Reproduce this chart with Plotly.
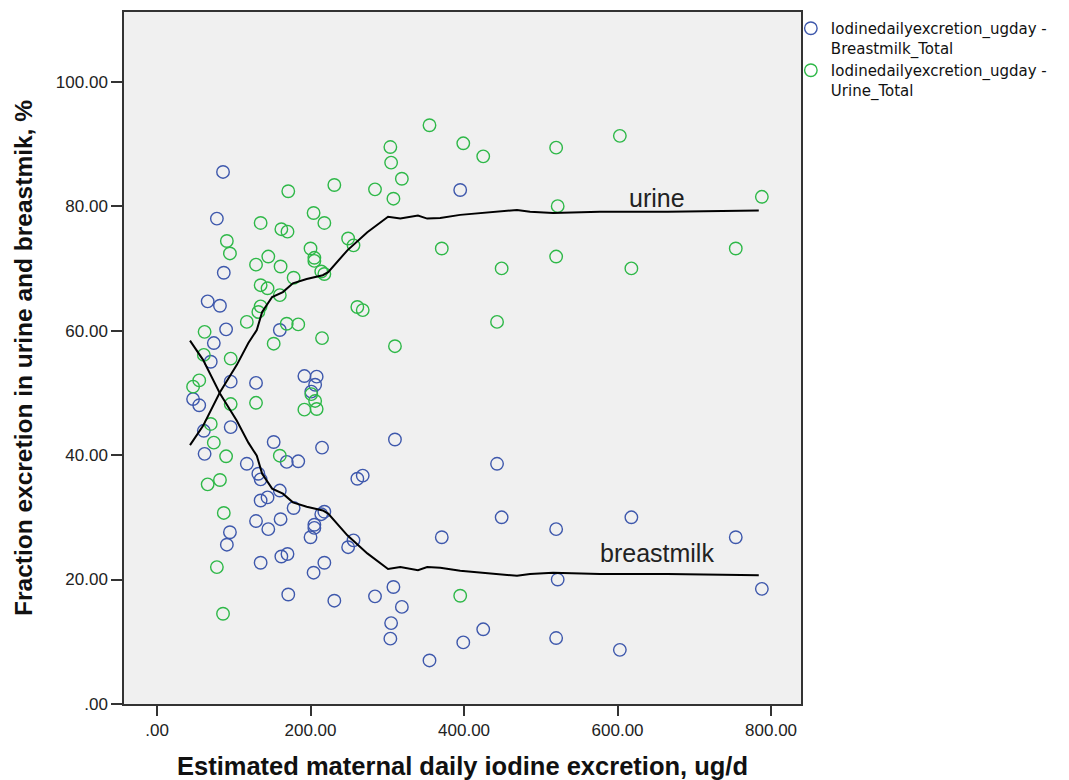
import plotly.graph_objects as go

# Estimated maternal daily iodine excretion (ug/d)
excretion = [47, 55, 61, 62, 66, 70, 74, 78, 82, 86, 87, 90, 91, 95, 96, 96,
             117, 129, 129, 132, 135, 135, 135, 144, 145, 152, 160, 160, 161, 162,
             170, 169, 171, 178, 184, 192, 200, 201, 204, 205, 205, 206, 208, 214,
             215, 218, 218, 231, 249, 256, 261, 268, 284, 304, 305, 308, 310, 319,
             355, 371, 395, 399, 425, 443, 449, 520, 522, 520, 603, 618, 754, 788]

# Fraction of excretion in breastmilk (%)
breastmilk = [49.0, 48.0, 43.9, 40.2, 64.7, 55.0, 58.0, 78.0, 64.0, 85.5, 69.3, 60.2, 25.6, 27.6, 51.8, 44.5,
              38.6, 51.6, 29.4, 37.0, 36.1, 32.7, 22.7, 33.2, 28.1, 42.1, 60.1, 34.3, 29.7, 23.7,
              24.1, 38.9, 17.6, 31.5, 39.0, 52.7, 26.8, 50.2, 21.1, 28.3, 28.8, 51.3, 52.6, 30.5,
              41.2, 30.9, 22.7, 16.6, 25.2, 26.3, 36.2, 36.7, 17.3, 10.5, 13.0, 18.8, 42.5, 15.6,
              7.0, 26.8, 82.6, 9.9, 12.0, 38.6, 30.0, 10.6, 20.0, 28.1, 8.7, 30.0, 26.8, 18.5]

# Fraction of excretion in urine (%)
urine = [51.0, 52.0, 56.1, 59.8, 35.3, 45.0, 42.0, 22.0, 36.0, 14.5, 30.7, 39.8, 74.4, 72.4, 48.2, 55.5,
         61.4, 48.4, 70.6, 63.0, 63.9, 67.3, 77.3, 66.8, 71.9, 57.9, 39.9, 65.7, 70.3, 76.3,
         75.9, 61.1, 82.4, 68.5, 61.0, 47.3, 73.2, 49.8, 78.9, 71.7, 71.2, 48.7, 47.4, 69.5,
         58.8, 69.1, 77.3, 83.4, 74.8, 73.7, 63.8, 63.3, 82.7, 89.5, 87.0, 81.2, 57.5, 84.4,
         93.0, 73.2, 17.4, 90.1, 88.0, 61.4, 70.0, 89.4, 80.0, 71.9, 91.3, 70.0, 73.2, 81.5]

# Loess fit lines
fit_x = [43, 60, 82, 104, 119, 130, 137, 150, 164, 177, 195, 216, 223, 248, 274,
         301, 317, 340, 352, 369, 395, 438, 469, 486, 516, 577, 665, 784]
fit_urine = [41.6, 44.7, 50.1, 54.5, 58.0, 60.1, 63.0, 65.4, 66.2, 67.6, 68.3, 68.9, 69.4, 72.9, 75.8,
             78.3, 78.0, 78.5, 78.0, 78.1, 78.6, 79.1, 79.4, 79.1, 78.9, 79.1, 79.1, 79.3]
fit_breastmilk = [58.4, 55.3, 49.9, 45.5, 42.0, 39.9, 37.0, 34.6, 33.8, 32.4, 31.7, 31.1, 30.6, 27.1, 24.2,
                  21.7, 22.0, 21.5, 22.0, 21.9, 21.4, 20.9, 20.6, 20.9, 21.1, 20.9, 20.9, 20.7]

x_ticks = [0, 200, 400, 600, 800]
x_ticktext = [".00", "200.00", "400.00", "600.00", "800.00"]
y_ticks = [0, 20, 40, 60, 80, 100]
y_ticktext = [".00", "20.00", "40.00", "60.00", "80.00", "100.00"]

BLUE = "#3E58AC"
GREEN = "#2EB848"
FONT = "Liberation Sans, Arial, sans-serif"
LEGFONT = "DejaVu Sans, Verdana, sans-serif"

fig = go.Figure()
fig.add_trace(go.Scatter(
    x=excretion, y=breastmilk, mode="markers",
    name="Iodinedailyexcretion_ugday -<br>Breastmilk_Total",
    marker=dict(symbol="circle-open", size=12.5, color=BLUE, line=dict(width=1.4)),
))
fig.add_trace(go.Scatter(
    x=excretion, y=urine, mode="markers",
    name="Iodinedailyexcretion_ugday -<br>Urine_Total",
    marker=dict(symbol="circle-open", size=12.5, color=GREEN, line=dict(width=1.4)),
))
fig.add_trace(go.Scatter(x=fit_x, y=fit_urine, mode="lines", showlegend=False,
                         line=dict(color="black", width=2), hoverinfo="skip"))
fig.add_trace(go.Scatter(x=fit_x, y=fit_breastmilk, mode="lines", showlegend=False,
                         line=dict(color="black", width=2), hoverinfo="skip"))

fig.add_annotation(x=652, y=81.3, text="urine", showarrow=False,
                   font=dict(family=FONT, size=25, color="#222222"))
fig.add_annotation(x=652, y=24.2, text="breastmilk", showarrow=False,
                   font=dict(family=FONT, size=25, color="#222222"))

fig.update_layout(
    width=1061, height=772,
    margin=dict(l=116, r=268, t=2, b=73),
    paper_bgcolor="white", plot_bgcolor="#F0F0F0",
    font=dict(family=FONT, color="#222222"),
    legend=dict(x=0.985, y=1.0, xanchor="left", yanchor="top",
                font=dict(family=LEGFONT, size=15, color="#111111"),
                valign="top", tracegroupgap=4, itemwidth=30,
                bgcolor="rgba(0,0,0,0)"),
    xaxis=dict(
        range=[-43, 839], tickmode="array", tickvals=x_ticks, ticktext=x_ticktext,
        ticks="outside", ticklen=10, tickwidth=1.5, tickcolor="#333333",
        showline=True, mirror=True, linecolor="#333333", linewidth=1.5,
        showgrid=False, zeroline=False,
        tickfont=dict(family=FONT, size=17, color="#222222"),
        title=dict(text="<b>Estimated maternal daily iodine excretion, ug/d</b>",
                   font=dict(family=FONT, size=25.5, color="#111111"), standoff=20),
    ),
    yaxis=dict(
        range=[0, 111.2], tickmode="array", tickvals=y_ticks, ticktext=y_ticktext,
        ticks="outside", ticklen=11, tickwidth=1.5, tickcolor="#333333",
        showline=True, mirror=True, linecolor="#333333", linewidth=1.5,
        showgrid=False, zeroline=False,
        tickfont=dict(family=FONT, size=17, color="#222222"),
        title=dict(text="<b>Fraction excretion in urine and breastmik, %</b>",
                   font=dict(family=FONT, size=24.5, color="#111111"), standoff=16),
    ),
)

fig.write_html("out.html")
